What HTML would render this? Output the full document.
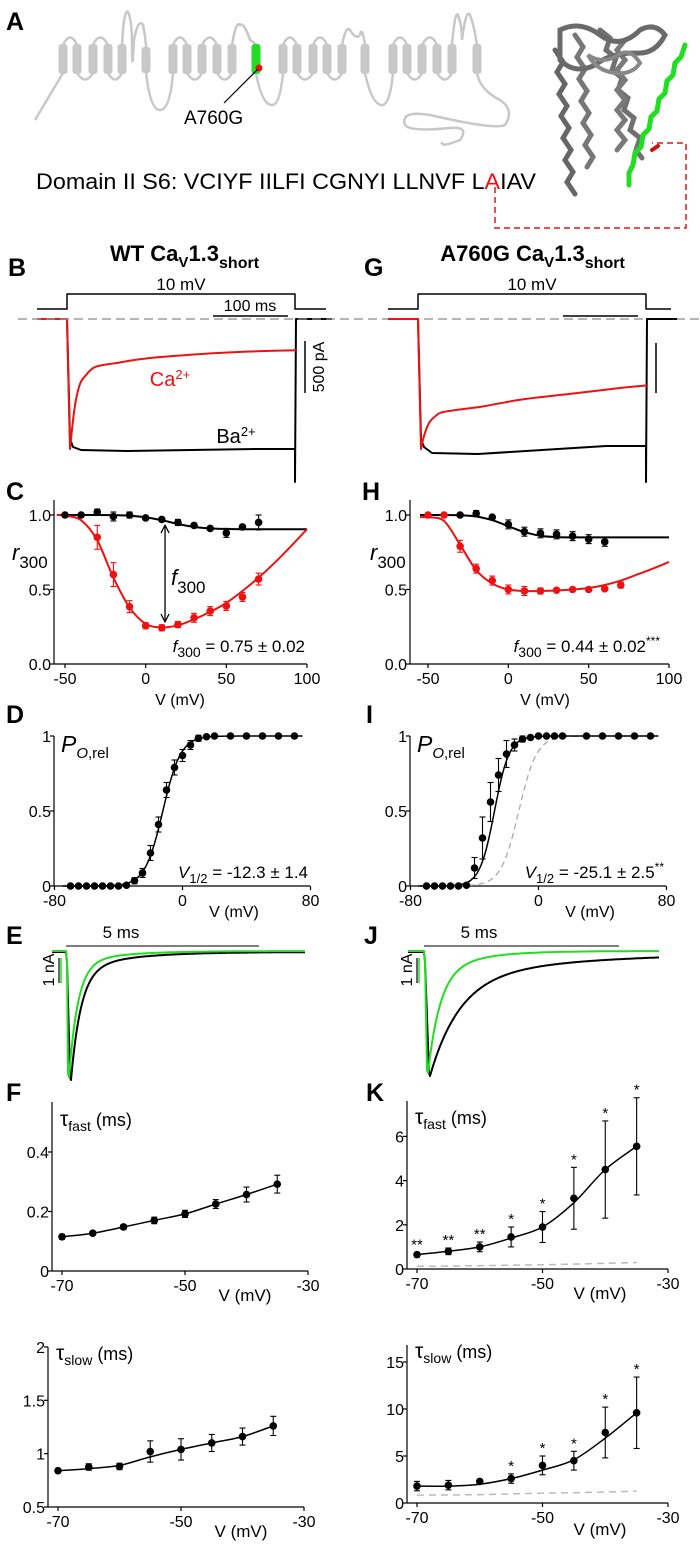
<!DOCTYPE html>
<html><head><meta charset="utf-8"><title>CaV1.3 A760G figure</title>
<style>
html,body{margin:0;padding:0;background:#fff;}
svg{display:block;font-family:"Liberation Sans Narrow","Liberation Sans",sans-serif;}
.lbl{font-family:"Liberation Sans",sans-serif;font-weight:bold;font-size:25px;}
</style></head>
<body>
<svg id="fig" width="700" height="1547" viewBox="0 0 700 1547" xmlns="http://www.w3.org/2000/svg">
  <g>
    <text class="lbl" x="6" y="30">A</text>
    <path fill="none" stroke="#c8c8c8" stroke-width="2.5"
      d="M35 120 Q50 95 63 73 M63 45 Q70 30 77 45 M77 73 Q85 86 93 73 M93 45 Q100 30 108 45 M108 73 Q115 86 122 73 M122 45 Q124 8 128 12 Q132 20 132 45 Q132 80 134 40 Q138 18 143 25 Q146 40 146 48 M146 72 Q150 110 160 110 Q170 110 173 73
      M173 45 Q180 30 187 45 M187 73 Q195 86 202 73 M202 45 Q210 30 217 45 M217 73 Q225 86 232 73 M232 45 Q236 20 240 25 Q244 22 250 40 Q254 42 256 45 M256 73 Q262 105 272 105 Q280 105 283 73
      M283 45 Q290 30 297 45 M297 73 Q305 86 313 73 M313 45 Q320 30 327 45 M327 73 Q335 86 342 73 M342 45 Q346 25 350 30 Q356 40 360 35 Q362 25 365 45 M365 73 Q372 105 382 105 Q390 105 393 73
      M393 45 Q400 30 407 45 M407 73 Q415 86 422 73 M422 45 Q430 30 437 45 M437 73 Q445 86 452 73 M452 45 Q455 10 458 15 Q462 25 462 40 Q466 8 470 15 Q474 25 477 45 M477 73 Q480 90 500 100 Q515 110 505 125 Q495 130 430 115 Q400 110 405 125 Q410 132 450 128 Q470 126 460 140 Q440 148 442 142"/>
    <g fill="#c8c8c8">
      <rect x="58.5" y="44" width="9" height="30" rx="3"/><rect x="72.5" y="44" width="9" height="30" rx="3"/><rect x="88.5" y="44" width="9" height="30" rx="3"/><rect x="103.5" y="44" width="9" height="30" rx="3"/><rect x="117.5" y="44" width="9" height="30" rx="3"/><rect x="141.5" y="47" width="9" height="26" rx="3"/>
      <rect x="168.5" y="44" width="9" height="30" rx="3"/><rect x="182.5" y="44" width="9" height="30" rx="3"/><rect x="197.5" y="44" width="9" height="30" rx="3"/><rect x="212.5" y="44" width="9" height="30" rx="3"/><rect x="227.5" y="44" width="9" height="30" rx="3"/>
      <rect x="278.5" y="44" width="9" height="30" rx="3"/><rect x="292.5" y="44" width="9" height="30" rx="3"/><rect x="308.5" y="44" width="9" height="30" rx="3"/><rect x="322.5" y="44" width="9" height="30" rx="3"/><rect x="337.5" y="44" width="9" height="30" rx="3"/><rect x="360.5" y="44" width="9" height="30" rx="3"/>
      <rect x="388.5" y="44" width="9" height="30" rx="3"/><rect x="402.5" y="44" width="9" height="30" rx="3"/><rect x="417.5" y="44" width="9" height="30" rx="3"/><rect x="432.5" y="44" width="9" height="30" rx="3"/><rect x="447.5" y="44" width="9" height="30" rx="3"/><rect x="472.5" y="44" width="9" height="30" rx="3"/>
    </g>
    <rect x="251.5" y="44" width="9" height="30" rx="3" fill="#22dd22"/>
    <circle cx="259" cy="68" r="3.5" fill="#ee1111"/>
    <line x1="258" y1="69" x2="224" y2="103" stroke="#000" stroke-width="1.2"/>
    <text x="184" y="124" font-size="19" font-family="Liberation Sans, sans-serif">A760G</text>
    <text x="36" y="189" font-size="22" textLength="500" lengthAdjust="spacingAndGlyphs" font-family="Liberation Sans, sans-serif">Domain II S6: VCIYF IILFI CGNYI LLNVF L<tspan fill="#ee1111">A</tspan>IAV</text>
    <g fill="none" stroke-linecap="round">
      <path d="M555 50 l8 12 l-6 10 l8 12 l-6 10 l8 12 l-6 10 l8 12 l-6 10 l8 12 l-6 10 l8 12 l-6 10 l8 12" stroke="#666" stroke-width="5"/>
      <path d="M575 35 l8 12 l-6 10 l8 12 l-6 10 l8 12 l-6 10 l8 12 l-6 10 l8 12 l-6 10 l8 12 l-6 10" stroke="#777" stroke-width="5"/>
      <path d="M600 30 l10 8 l-4 12 l10 8 l-4 12 l10 8 l-4 12 l10 8 l-4 12 l10 8 l-4 12 l10 8 l-4 12 l6 8" stroke="#707070" stroke-width="5"/>
      <path d="M625 40 l-8 10 l8 10 l-8 10 l8 10 l-8 10 l8 10 l-8 10 l8 10 l-8 10 l8 10 l-8 10" stroke="#7a7a7a" stroke-width="5"/>
      <path d="M560 30 q20 -10 40 5 q20 15 40 -5 q15 -8 25 5 q-10 20 -30 18 q-25 0 -40 12 q-20 10 -35 -5z" stroke="#6a6a6a" stroke-width="5"/>
      <path d="M588 55 q15 10 30 0 q12 -8 22 8 q-8 12 -25 10 q-18 -2 -27 -18z" stroke="#888" stroke-width="4"/>
      <path d="M685 45 l-4 12 l-6 6 l-2 12 l-6 6 l-2 12 l-6 6 l-2 12 l-6 6 l-2 12 l-6 6 l-2 12 l-6 6 l-2 12 l-4 8 l0 12" stroke="#22dd22" stroke-width="5"/>
      <path d="M652 150 l6 -4" stroke="#cc1111" stroke-width="4"/>
    </g>
    <path d="M495 187 V228 H686 V143 H652" fill="none" stroke="#ee1111" stroke-width="1.5" stroke-dasharray="6,4"/>
  </g>
</svg>
<script>
const NS='http://www.w3.org/2000/svg';
const svg=document.getElementById('fig');
function mk(tag,parent){const e=document.createElementNS(NS,tag);parent.appendChild(e);return e;}
function ln(p,x1,y1,x2,y2,col,w,name,dash){const e=mk('line',p);e.setAttribute('x1',x1);e.setAttribute('y1',y1);e.setAttribute('x2',x2);e.setAttribute('y2',y2);e.setAttribute('stroke',col);e.setAttribute('stroke-width',w);if(dash)e.setAttribute('stroke-dasharray',dash);


return e;}
function tx(p,x,y,s,size,anchor,name,col){const e=mk('text',p);e.setAttribute('x',x);e.setAttribute('y',y);e.setAttribute('font-size',size);e.setAttribute('text-anchor',anchor||'start');if(col)e.setAttribute('fill',col);e.innerHTML=s;


return e;}
function pth(p,d,col,w,name,dash){const e=mk('path',p);e.setAttribute('d',d);e.setAttribute('fill','none');e.setAttribute('stroke',col);e.setAttribute('stroke-width',w);e.setAttribute('stroke-linejoin','round');if(dash)e.setAttribute('stroke-dasharray',dash);


return e;}
function grp(name){const g=mk('g',svg);


return g;}
function plabel(g,x,y,s,name){const e=tx(g,x,y,s,25,'start',name);e.setAttribute('class','lbl');return e;}
function smooth(pts){let d='M'+pts[0][0].toFixed(1)+' '+pts[0][1].toFixed(1);for(let i=0;i<pts.length-1;i++){const p0=pts[i-1]||pts[i],p1=pts[i],p2=pts[i+1],p3=pts[i+2]||p2;
const c1=[p1[0]+(p2[0]-p0[0])/6,p1[1]+(p2[1]-p0[1])/6],c2=[p2[0]-(p3[0]-p1[0])/6,p2[1]-(p3[1]-p1[1])/6];
d+=' C'+c1[0].toFixed(1)+' '+c1[1].toFixed(1)+' '+c2[0].toFixed(1)+' '+c2[1].toFixed(1)+' '+p2[0].toFixed(1)+' '+p2[1].toFixed(1);}return d;}
function axes(g,o){
  ln(g,o.x0,o.yAx,o.x1,o.yAx,'#000',1.2,'x-axis');
  ln(g,o.x0,o.yTop,o.x0,o.yAx,'#000',1.2,'y-axis');
  o.xt.forEach((v,i)=>{const X=o.xs(v);ln(g,X,o.yAx,X,o.yAx+4,'#000',1.2,'x-tick');tx(g,X,o.yAx+20,o.xl[i],16,'middle','x-tick-label');});
  o.yt.forEach((v,i)=>{const Y=o.ys(v);ln(g,o.x0-4,Y,o.x0,Y,'#000',1.2,'y-tick');tx(g,o.x0-3,Y+6,o.yl[i],16,'end','y-tick-label');});
}
function dots(g,V,Y,E,xs,ys,col,r,name){V.forEach((v,i)=>{const X=xs(v),y=ys(Y[i]);
  if(E&&E[i]>0){const a=ys(Y[i]+E[i]),b=ys(Y[i]-E[i]);ln(g,X,a,X,b,col,1.1,'error-bar');ln(g,X-3,a,X+3,a,col,1.1,'error-cap');ln(g,X-3,b,X+3,b,col,1.1,'error-cap');}
  const c=mk('circle',g);c.setAttribute('cx',X);c.setAttribute('cy',y);c.setAttribute('r',r);c.setAttribute('fill',col);
  
  
});}
function curve(g,V,Y,xs,ys,col,w,name,dash){return pth(g,smooth(V.map((v,i)=>[xs(v),ys(Y[i])])),col,w,name,dash);}
function boltz(v,vh,k){return 1/(1+Math.exp(-(v-vh)/k));}

/* ===== Panels B / G ===== */
const B_caTimes=[0,3,6,10,15,25,45,80,130,180,227];
const B_caLevel=[1.0,0.78,0.62,0.5,0.44,0.37,0.34,0.3,0.27,0.25,0.24];
const G_caTimes=[0,3,8,14,20,35,60,100,150,200,227];
const G_caLevel=[1.0,0.9,0.8,0.75,0.72,0.7,0.675,0.62,0.575,0.53,0.51];
function traces(name,x0,xOn,xOff,x1,base,peak,caT,caL,bTrough,bEnd,title,letter,lx){
  const g=grp(name);
  plabel(g,lx,276,letter,'panel-label-'+letter.toLowerCase());
  const t=tx(g,(x0+x1)/2,261,title,22,'middle','panel-title');t.setAttribute('font-weight','bold');t.setAttribute('font-family','Liberation Sans, sans-serif');
  pth(g,`M${x0} 309 H${xOn} V294 H${xOff} V309 H${x1-6}`,'#000',1.5,'voltage-protocol');
  tx(g,(xOn+xOff)/2,290,'10 mV',17,'middle','voltage-label');
  ln(g,18,319,700,319,'#999',1.3,'zero-current-line','9,5');
  const amp=peak-base;
  const bl=[[x0,base],[xOn,base],[xOn+3,peak-10],[xOn+6,peak-2],[xOn+14,bTrough],[xOn+60,bTrough+1],[xOff-40,bEnd],[xOff,bEnd]];
  pth(g,'M'+bl.map(p=>p.join(' ')).join(' L')+` L${xOff} ${peak+33} L${xOff+1} ${base} L${x1} ${base}`,'#000',2,'ba-trace');
  const rd=caT.map((t,i)=>[xOn+3+t,base+amp*caL[i]]);
  pth(g,`M${x0} ${base} L${xOn} ${base} L${xOn+3} ${peak} `+smooth(rd).replace('M','L'),'#ee1111',2,'ca-trace');
  pth(g,`M${x0} ${base} L${x0+25} ${base}`,'#ee1111',2,'ca-baseline');
  return g;
}
const gB=traces('panel-b',37,67,295,332,319,449,B_caTimes,B_caLevel,450,449,'WT Ca<tspan font-size="15" dy="6">V</tspan><tspan dy="-6">1.3</tspan><tspan font-size="16" dy="7">short</tspan>','B',8);
ln(gB,213,316,288,316,'#000',1.5,'time-scale-bar');
tx(gB,250,311,'100 ms',16,'middle','time-scale-label');
ln(gB,305,341,305,393,'#000',1.5,'current-scale-bar');
const sl=tx(gB,0,0,'500 pA',16,'middle','current-scale-label');sl.setAttribute('transform','translate(324 367) rotate(-90)');
tx(gB,170,386,'Ca<tspan font-size="13" dy="-7">2+</tspan>',20,'middle','ca-label','#ee1111');
tx(gB,236,443,'Ba<tspan font-size="13" dy="-7">2+</tspan>',20,'middle','ba-label');
const gG=traces('panel-g',388,418,646,677,319,449,G_caTimes,G_caLevel,453,446,'A760G Ca<tspan font-size="15" dy="6">V</tspan><tspan dy="-6">1.3</tspan><tspan font-size="16" dy="7">short</tspan>','G',364);
ln(gG,563,316,638,316,'#000',1.5,'time-scale-bar');
ln(gG,656,343,656,393,'#000',1.5,'current-scale-bar');

/* ===== Panel C ===== */
const C_V=[-50,-40,-30,-20,-10,0,10,20,30,40,50,60,70];
const C_ba=[1.0,1.0,1.02,0.99,1.0,0.98,0.97,0.95,0.93,0.91,0.88,0.92,0.95];
const C_baErr=[0.01,0.01,0.02,0.03,0.02,0.01,0.01,0.02,0.01,0.01,0.03,0.01,0.05];
const C_caV=[-30,-20,-10,0,10,20,30,40,50,60,70];
const C_ca=[0.85,0.6,0.385,0.257,0.243,0.265,0.31,0.355,0.39,0.45,0.57];
const C_caErr=[0.08,0.08,0.04,0.02,0.02,0.02,0.03,0.03,0.03,0.03,0.04];
const C_fitV=[-55,-50,-40,-30,-20,-10,0,10,20,30,40,50,60,70,80,90,100];
const C_caFit=[1.0,0.995,0.965,0.83,0.58,0.38,0.27,0.245,0.26,0.3,0.35,0.41,0.49,0.58,0.68,0.79,0.905];
const C_baFit=[1.0,1.0,1.0,1.0,0.999,0.995,0.985,0.965,0.94,0.92,0.91,0.906,0.905,0.905,0.905,0.905,0.905];
const R_ticks=[0,0.5,1.0],R_tickLbl=['0.0','0.5','1.0'],V_ticks=[-50,0,50,100],V_tickLbl=['-50','0','50','100'];
{
 const g=grp('panel-c');const xs=v=>65+(v+50)*242/150,ys=r=>664-r*149;
 plabel(g,6,500,'C','panel-label-c');
 axes(g,{x0:54,x1:307,yAx:664,yTop:500,xs,ys,xt:V_ticks,xl:V_tickLbl,yt:R_ticks,yl:R_tickLbl});
 curve(g,C_fitV,C_baFit,xs,ys,'#000',2,'ba-fit');
 curve(g,C_fitV,C_caFit,xs,ys,'#ee1111',2,'ca-fit');
 dots(g,C_V,C_ba,C_baErr,xs,ys,'#000',3.8,'ba-point');
 dots(g,C_caV,C_ca,C_caErr,xs,ys,'#ee1111',3.8,'ca-point');
 tx(g,12,560,'<tspan font-style="italic">r</tspan><tspan font-size="17" dy="8">300</tspan>',22,'start','y-axis-title');
 tx(g,180,705,'V (mV)',16,'middle','x-axis-title');
 const ax=xs(12);ln(g,ax,527,ax,620,'#000',1.3,'f300-arrow');
 pth(g,`M${ax-4} 533 L${ax} 525 L${ax+4} 533 M${ax-4} 614 L${ax} 622 L${ax+4} 614`,'#000',1.3,'f300-arrowheads');
 tx(g,171,585,'<tspan font-style="italic">f</tspan><tspan font-size="17" dy="8">300</tspan>',22,'start','f300-label');
 tx(g,305,652,'<tspan font-style="italic">f</tspan><tspan font-size="14" dy="5">300</tspan><tspan dy="-5"> = 0.75 ± 0.02</tspan>',17,'end','f300-value');
}
/* ===== Panel H ===== */
const H_baV=[-30,-20,-10,0,10,20,30,40,50,60];
const H_ba=[1.0,1.01,0.985,0.937,0.888,0.877,0.87,0.858,0.838,0.82];
const H_baErr=[0.01,0.02,0.01,0.03,0.03,0.03,0.03,0.03,0.03,0.03];
const H_caV=[-50,-40,-30,-20,-10,0,10,20,30,40,50,60,70];
const H_ca=[1.0,1.0,0.79,0.64,0.56,0.5,0.49,0.49,0.495,0.5,0.5,0.505,0.53];
const H_caErr=[0.01,0.01,0.04,0.03,0.03,0.03,0.03,0.02,0.01,0.01,0.01,0.01,0.02];
const H_fitV=[-55,-50,-40,-30,-20,-10,0,10,20,30,40,50,60,70,80,90,100];
const H_caFit=[0.985,0.985,0.96,0.8,0.63,0.54,0.5,0.49,0.49,0.493,0.5,0.51,0.53,0.56,0.6,0.64,0.685];
const H_baFit=[1.0,1.0,1.0,0.998,0.99,0.965,0.925,0.885,0.86,0.852,0.85,0.85,0.85,0.85,0.85,0.85,0.85];
{
 const g=grp('panel-h');const xs=v=>428+(v+50)*241/150,ys=r=>664-r*149;
 plabel(g,362,500,'H','panel-label-h');
 axes(g,{x0:410,x1:669,yAx:664,yTop:500,xs,ys,xt:V_ticks,xl:V_tickLbl,yt:R_ticks,yl:R_tickLbl});
 curve(g,H_fitV,H_baFit,xs,ys,'#000',2,'ba-fit');
 curve(g,H_fitV,H_caFit,xs,ys,'#ee1111',2,'ca-fit');
 dots(g,H_baV,H_ba,H_baErr,xs,ys,'#000',3.8,'ba-point');
 dots(g,H_caV,H_ca,H_caErr,xs,ys,'#ee1111',3.8,'ca-point');
 tx(g,370,560,'<tspan font-style="italic">r</tspan><tspan font-size="17" dy="8">300</tspan>',22,'start','y-axis-title');
 tx(g,545,705,'V (mV)',16,'middle','x-axis-title');
 tx(g,660,652,'<tspan font-style="italic">f</tspan><tspan font-size="14" dy="5">300</tspan><tspan dy="-5"> = 0.44 ± 0.02</tspan><tspan font-size="12" dy="-7">***</tspan>',17,'end','f300-value');
}
/* ===== Panels D / I ===== */
const D_V=[-70,-65,-60,-55,-50,-45,-40,-35,-30,-25,-20,-15,-10,-5,0,5,10,15,20,30,40,50,60,70];
const D_P=[0,0,0,0,0,0,0,0.005,0.035,0.087,0.22,0.41,0.64,0.79,0.87,0.94,0.985,0.995,1,1,1,1,1,1];
const D_err=[0,0,0,0,0,0,0,0.01,0.02,0.03,0.05,0.05,0.05,0.05,0.04,0.03,0.02,0.01,0,0,0,0,0,0];
const D_vhalf=-12.3,D_k=5.6;
const I_V=[-70,-65,-60,-55,-50,-45,-40,-35,-30,-25,-20,-15,-10,-5,0,5,10,15,30,40,50,60,70];
const I_P=[0,0,0,0,0,0.005,0.12,0.32,0.56,0.74,0.88,0.94,0.98,0.99,1,1,1,1,1,1,1,1,1];
const I_err=[0,0,0,0,0,0.01,0.07,0.14,0.13,0.11,0.09,0.04,0.02,0.01,0,0,0,0,0,0,0,0,0];
const I_vhalf=-27.5,I_k=4.6;
const PV_ticks=[-80,0,80],PV_lbl=['-80','0','80'],P_ticks=[0,0.5,1],P_lbl=['0','0.5','1'];
function poPanel(name,letter,lx,x0,x1,x0v,V,P,E,vh,k,val,dashed){
 const g=grp(name);const xs=v=>x0v+v*(x1-x0)/160,ys=p=>886-p*150;
 plabel(g,lx,723,letter,'panel-label-'+letter.toLowerCase());
 axes(g,{x0:x0,x1:x1,yAx:886,yTop:736,xs,ys,xt:PV_ticks,xl:PV_lbl,yt:P_ticks,yl:P_lbl});
 const fv=[];for(let v=-75;v<=75;v+=2.5)fv.push(v);
 if(dashed)curve(g,fv,fv.map(v=>boltz(v,D_vhalf,D_k)),xs,ys,'#aaa',1.3,'wt-reference-fit','6,4');
 curve(g,fv,fv.map(v=>boltz(v,vh,k)),xs,ys,'#000',1.5,'boltzmann-fit');
 dots(g,V,P,E,xs,ys,'#000',3.8,'po-point');
 tx(g,x0+7,752,'<tspan font-style="italic">P</tspan><tspan font-size="15" dy="6"><tspan font-style="italic">O</tspan>,rel</tspan>',23,'start','y-axis-title');
 tx(g,x0+180,917,'V (mV)',16,'middle','x-axis-title');
 tx(g,x1-2,878,val,17,'end','v-half-value');
}
poPanel('panel-d','D',6,54,310,182.5,D_V,D_P,D_err,D_vhalf,D_k,'<tspan font-style="italic">V</tspan><tspan font-size="13" dy="5">1/2</tspan><tspan dy="-5"> = -12.3 ± 1.4</tspan>',false);
poPanel('panel-i','I',366,410,666,538.5,I_V,I_P,I_err,I_vhalf,I_k,'<tspan font-style="italic">V</tspan><tspan font-size="13" dy="5">1/2</tspan><tspan dy="-5"> = -25.1 ± 2.5</tspan><tspan font-size="12" dy="-7">**</tspan>',true);

/* ===== Panels E / J ===== */
const E_fast=[0.9,9,0.1,45],E_black=[0.85,10,0.15,50];
const J_fast=[0.8,12,0.2,40],J_black=[0.8,30,0.2,150];
function tail(g,x0,xOn,xPk,x1,base,peak,par,col,name){
 const pts=[[x0,base],[xOn,base],[xOn+1,base+10],[xPk-1,peak-3],[xPk,peak]];
 for(let x=xPk+1;x<=x1;x+=1){const d=x-xPk;pts.push([x,base+(peak-base)*(par[0]*Math.exp(-d/par[1])+par[2]*Math.exp(-d/par[3]))]);}
 pth(g,'M'+pts.map(p=>p[0].toFixed(1)+' '+p[1].toFixed(1)).join(' L'),col,2,name);
}
function ePanel(name,letter,lx,x0,xOn,xPk,x1,peak,F,B,xb1){
 const g=grp(name);
 plabel(g,lx,944,letter,'panel-label-'+letter.toLowerCase());
 ln(g,xOn,946,xb1,946,'#555',1.5,'time-scale-bar');
 tx(g,xOn+55,938,'5 ms',17,'middle','time-scale-label');
 tail(g,x0,xOn,xPk+2,x1,952,peak,B,'#000','slow-trace');
 tail(g,x0,xOn,xPk,x1,951,peak-3,F,'#22dd22','fast-trace');
 ln(g,xOn-5,958,xOn-5,983,'#22dd22',1.5,'current-scale-bar');
 ln(g,xOn-7,958,xOn-7,983,'#000',1.2,'current-scale-bar-outline');
 const t=tx(g,0,0,'1 nA',16,'middle','current-scale-label');t.setAttribute('transform',`translate(${xOn-12} 970) rotate(-90)`);
}
ePanel('panel-e','E',6,52,66,69,305,1080,E_fast,E_black,259);
ePanel('panel-j','J',364,408,424,428,659,1076,J_fast,J_black,619);

/* ===== Panels F / K ===== */
const TAU_V=[-70,-65,-60,-55,-50,-45,-40,-35];
const F_fast=[0.115,0.127,0.148,0.17,0.192,0.225,0.257,0.292];
const F_fastErr=[0.008,0.006,0.008,0.011,0.012,0.015,0.025,0.03];
const F_slow=[0.84,0.875,0.88,1.02,1.04,1.10,1.16,1.26];
const F_slowErr=[0.02,0.03,0.03,0.1,0.1,0.08,0.08,0.09];
const F_slowFit=[0.84,0.86,0.89,0.97,1.04,1.10,1.16,1.26];
const K_fast=[0.65,0.8,1.0,1.45,1.9,3.2,4.5,5.55];
const K_fastErr=[0.1,0.15,0.22,0.45,0.7,1.4,2.2,2.2];
const K_fastFit=[0.65,0.8,1.0,1.4,1.9,3.0,4.5,5.55];
const K_fastStars=['**','**','**','*','*','*','*','*'];
const K_fastWT=[0.12,0.13,0.15,0.17,0.19,0.22,0.26,0.29];
const K_slow=[1.8,1.9,2.3,2.6,4.0,4.5,7.5,9.6];
const K_slowErr=[0.5,0.5,0.2,0.5,1.0,1.0,2.7,3.8];
const K_slowFit=[1.8,1.8,2.0,2.6,3.5,4.6,6.9,9.6];
const K_slowStars=['','','','*','*','*','*','*'];
const K_slowWT=[0.84,0.86,0.89,0.97,1.04,1.10,1.16,1.26];
const TV_ticks=[-70,-50,-30],TV_lbl=['-70','-50','-30'];
function tauPanel(name,letter,lx,x0,yAx,yTop,ys,yt,yl,vals,errs,fit,title,titleY,xvY,stars,wt){
 const g=grp(name);
 const xs=v=>x0+10+(v+70)*(x0>300?251:246)/40;
 if(letter)plabel(g,lx,1101,letter,'panel-label-'+letter.toLowerCase());
 axes(g,{x0:x0,x1:xs(-30),yAx:yAx,yTop:yTop,xs,ys,xt:TV_ticks,xl:TV_lbl,yt:yt,yl:yl});
 if(wt)curve(g,TAU_V,wt,xs,ys,'#bbb',1.5,'wt-reference-line','7,5');
 curve(g,TAU_V,fit,xs,ys,'#000',1.5,'fit-line');
 dots(g,TAU_V,vals,errs,xs,ys,'#000',3.8,'tau-point');
 if(stars)TAU_V.forEach((v,i)=>{if(stars[i])tx(g,xs(v),ys(vals[i]+errs[i])-3,stars[i],15,'middle','significance-star');});
 tx(g,x0+8,titleY,title,21,'start','y-axis-title');
 tx(g,x0+193,xvY,'V (mV)',17,'middle','x-axis-title');
}
tauPanel('panel-f-fast','F',6,52,1271,1102,t=>1271-t*297.5,[0,0.2,0.4],['0','0.2','0.4'],F_fast,F_fastErr,F_fast,'τ<tspan font-size="14" dy="5">fast</tspan><tspan dy="-5" font-size="18"> (ms)</tspan>',1126,1301,null,null);
tauPanel('panel-f-slow','',6,48,1507,1347,t=>1507-(t-0.5)*106.7,[0.5,1,1.5,2],['0.5','1','1.5','2'],F_slow,F_slowErr,F_slowFit,'τ<tspan font-size="14" dy="5">slow</tspan><tspan dy="-5" font-size="18"> (ms)</tspan>',1360,1537,null,null);
tauPanel('panel-k-fast','K',366,407,1269,1101,t=>1269-t*22.1,[0,2,4,6],['0','2','4','6'],K_fast,K_fastErr,K_fastFit,'τ<tspan font-size="14" dy="5">fast</tspan><tspan dy="-5" font-size="18"> (ms)</tspan>',1124,1299,K_fastStars,K_fastWT);
tauPanel('panel-k-slow','',366,407,1503,1345,t=>1503-t*9.4,[0,5,10,15],['0','5','10','15'],K_slow,K_slowErr,K_slowFit,'τ<tspan font-size="14" dy="5">slow</tspan><tspan dy="-5" font-size="18"> (ms)</tspan>',1358,1535,K_slowStars,K_slowWT);
</script>
</body></html>
